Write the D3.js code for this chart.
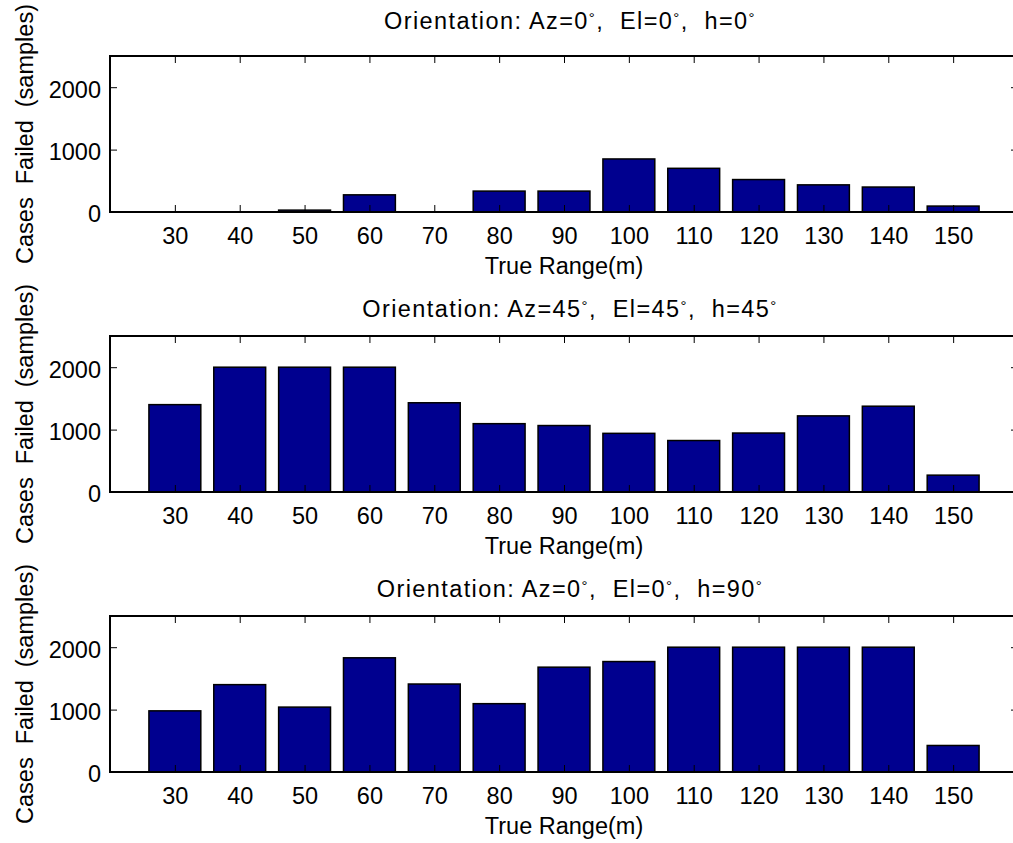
<!DOCTYPE html>
<html>
<head>
<meta charset="utf-8">
<script src="https://cdn.jsdelivr.net/npm/d3@7"></script>
<style>
  html, body { margin: 0; padding: 0; background: #fff; }
  svg { display: block; }
  text { font-family: "Liberation Sans", Arial, Helvetica, sans-serif; fill: #000; }
</style>
</head>
<body>
<svg id="chart" width="1013" height="843"></svg>
<script>
// True range of each test position (m)
const ranges = [30, 40, 50, 60, 70, 80, 90, 100, 110, 120, 130, 140, 150];

// Failed cases per range for each sensor orientation
const failedAz0El0h0    = [0, 0, 30, 275, 0, 335, 335, 850, 700, 520, 435, 400, 95];
const failedAz45El45h45 = [1400, 2000, 2000, 2000, 1430, 1095, 1065, 940, 825, 945, 1220, 1375, 270];
const failedAz0El0h90   = [980, 1400, 1040, 1830, 1410, 1095, 1680, 1770, 2000, 2000, 2000, 2000, 425];

// Orientation angles (degrees) for each panel
const azimuths   = [0, 45, 0];
const elevations = [0, 45, 0];
const headings   = [0, 45, 90];

const yTicks = [0, 1000, 2000];
const xDomain = [20, 160];
const yDomain = [0, 2500];

const seriesList = [failedAz0El0h0, failedAz45El45h45, failedAz0El0h90];

const svg = d3.select("#chart");

const left = 110, right = 1018, panelH = 156;
const panelTops = [56, 336, 616];
const titleGaps = [27, 19, 19];
const tickLen = 7;
const barWidth = 8;
const fontSize = 23.5;
const fontFamily = "'Liberation Sans', Arial, Helvetica, sans-serif";

const x = d3.scaleLinear().domain(xDomain).range([left, right]);

seriesList.forEach((values, i) => {
  const top = panelTops[i], bottom = top + panelH;
  const y = d3.scaleLinear().domain(yDomain).range([bottom, top]);
  const g = svg.append("g");

  // bars
  g.selectAll("rect.bar")
    .data(ranges.map((r, k) => ({ r, v: values[k] })))
    .join("rect")
    .attr("class", "bar")
    .attr("x", d => x(d.r - barWidth / 2))
    .attr("width", d => x(d.r + barWidth / 2) - x(d.r - barWidth / 2))
    .attr("y", d => y(d.v))
    .attr("height", d => y(0) - y(d.v))
    .attr("fill", "#00008f")
    .attr("stroke", "#000")
    .attr("stroke-width", 1.5);

  // bottom axis with inward ticks
  const xb = g.append("g").attr("transform", `translate(0,${bottom})`)
    .call(d3.axisBottom(x).tickValues(ranges).tickSize(-tickLen).tickPadding(0).tickFormat(d3.format("d")));
  xb.select(".domain").remove();
  xb.selectAll(".tick line").attr("stroke", "#000").attr("stroke-width", 1);
  xb.selectAll(".tick text")
    .attr("y", 31.5).attr("dy", null)
    .style("font-size", fontSize + "px")
    .style("font-family", fontFamily);

  // top axis ticks
  const xt = g.append("g").attr("transform", `translate(0,${top})`)
    .call(d3.axisTop(x).tickValues(ranges).tickSize(-tickLen).tickFormat(""));
  xt.select(".domain").remove();
  xt.selectAll(".tick line").attr("stroke", "#000").attr("stroke-width", 1);

  // left axis
  const yl = g.append("g").attr("transform", `translate(${left},0)`)
    .call(d3.axisLeft(y).tickValues(yTicks).tickSize(-tickLen).tickFormat(d3.format("d")));
  yl.select(".domain").remove();
  yl.selectAll(".tick line").attr("stroke", "#000").attr("stroke-width", 1);
  yl.selectAll(".tick text")
    .attr("x", -9).attr("dy", "0.42em")
    .style("font-size", fontSize + "px")
    .style("font-family", fontFamily);

  // right axis ticks
  const yr = g.append("g").attr("transform", `translate(${right},0)`)
    .call(d3.axisRight(y).tickValues(yTicks).tickSize(-tickLen).tickFormat(""));
  yr.select(".domain").remove();
  yr.selectAll(".tick line").attr("stroke", "#000").attr("stroke-width", 1);

  // axes box
  g.append("rect")
    .attr("x", left).attr("y", top)
    .attr("width", right - left).attr("height", panelH)
    .attr("fill", "none").attr("stroke", "#000").attr("stroke-width", 2);

  // title with superscript degree marks
  const cx = (left + right) / 2;
  const title = g.append("text")
    .attr("x", cx + 6).attr("y", top - titleGaps[i])
    .attr("text-anchor", "middle")
    .style("font-size", fontSize + "px")
    .style("letter-spacing", "1.4px")
    .style("white-space", "pre");
  const parts = [
    `Orientation: Az=${azimuths[i]}`, "°",
    `,  El=${elevations[i]}`, "°",
    `,  h=${headings[i]}`, "°"
  ];
  parts.forEach((p, k) => {
    const sup = k % 2 === 1;
    title.append("tspan")
      .attr("dy", sup ? -6 : (k > 0 ? 6 : 0))
      .style("font-size", sup ? "15px" : fontSize + "px")
      .text(p);
  });

  // x label
  g.append("text")
    .attr("x", cx).attr("y", bottom + 62)
    .attr("text-anchor", "middle")
    .style("font-size", fontSize + "px")
    .text("True Range(m)");

  // y label
  g.append("text")
    .attr("transform", `translate(33,${(top + bottom) / 2}) rotate(-90)`)
    .attr("text-anchor", "middle")
    .style("font-size", fontSize + "px")
    .style("white-space", "pre")
    .text("Cases  Failed  (samples)");
});
</script>
</body>
</html>
